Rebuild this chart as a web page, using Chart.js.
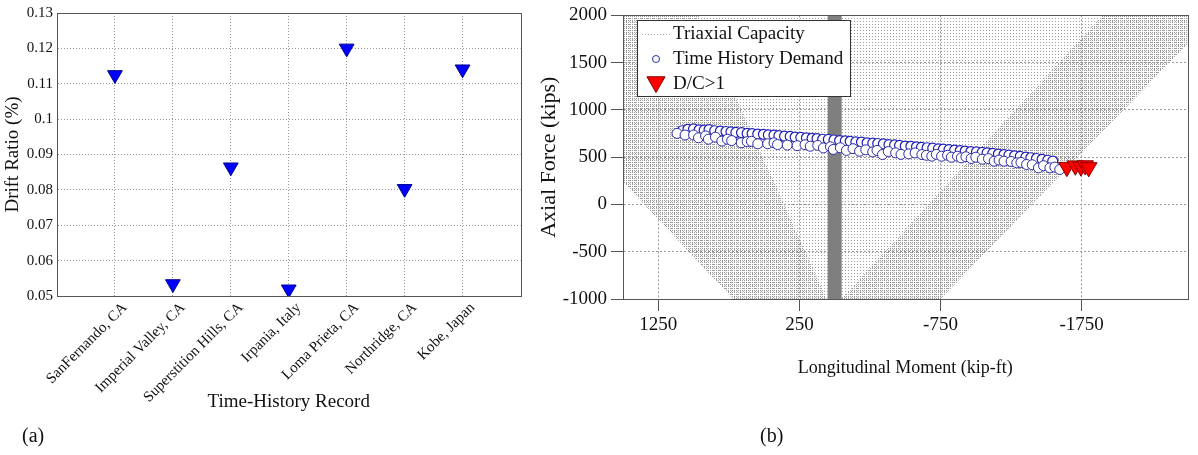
<!DOCTYPE html>
<html>
<head>
<meta charset="utf-8">
<script src="https://cdn.jsdelivr.net/npm/chart.js@4.4.0/dist/chart.umd.min.js"></script>
<style>
  body { margin: 0; background: #fff; width: 1198px; height: 455px; overflow: hidden; position: relative; font-family: 'Liberation Serif', serif; }
  .panel { position: absolute; top: 0; height: 430px; }
  #panelA { left: 0; width: 530px; }
  #panelB { left: 530px; width: 668px; }
  .tag { position: absolute; top: 424px; font-size: 20px; color: #111; }
</style>
</head>
<body>
<div id="panelA" class="panel"><canvas id="deriva"></canvas></div>
<div id="panelB" class="panel"><canvas id="interaccion"></canvas></div>
<div class="tag" style="left: 22px;">(a)</div>
<div class="tag" style="left: 760px;">(b)</div>
<script>
// (a) deriva por registro
var registros = ['SanFernando, CA', 'Imperial Valley, CA', 'Superstition Hills, CA', 'Irpania, Italy', 'Loma Prieta, CA', 'Northridge, CA', 'Kobe, Japan'];
var derivas = [0.1125, 0.0534, 0.0864, 0.0519, 0.1200, 0.0803, 0.1141];
var ticksDeriva = [0.05, 0.06, 0.07, 0.08, 0.09, 0.10, 0.11, 0.12, 0.13];

// (b) demanda vs capacidad
var ticksMomento = [1250, 250, -750, -1750];
var ticksAxial = [-1000, -500, 0, 500, 1000, 1500, 2000];

var momentoSup = [1080, 1040, 1000, 960, 925, 890, 850, 810, 770, 735, 700, 660, 620, 585, 545, 505, 470, 430, 395, 355, 315, 280, 240, 200, 160, 125, 85, 45, 5, -35, -75, -110, -150, -190, -230, -270, -305, -345, -385, -425, -460, -500, -540, -580, -615, -655, -695, -735, -770, -810, -850, -890, -925, -965, -1005, -1045, -1080, -1120, -1160, -1200, -1235, -1275, -1315, -1355, -1390, -1430, -1470, -1510, -1545];
var axialSup = [780, 795, 800, 790, 786, 792, 780, 775, 772, 768, 762, 760, 752, 750, 745, 742, 736, 733, 728, 722, 720, 713, 710, 705, 700, 697, 690, 688, 682, 676, 672, 668, 662, 660, 652, 648, 645, 640, 632, 630, 625, 618, 615, 610, 603, 600, 595, 588, 585, 580, 574, 570, 565, 560, 556, 550, 545, 540, 533, 528, 522, 515, 508, 500, 494, 486, 478, 468, 458];
var momentoInf = [1117, 1060, 1000, 965, 915, 895, 845, 800, 760, 730, 662, 620, 590, 545, 475, 430, 405, 336, 266, 210, 173, 120, 80, 30, 10, -40, -83, -130, -176, -220, -269, -300, -339, -380, -432, -470, -525, -570, -618, -650, -688, -720, -757, -800, -827, -870, -897, -930, -967, -1000, -1046, -1090, -1130, -1165, -1200, -1250, -1290, -1320, -1360, -1400, -1444, -1480, -1525, -1560, -1595];
var axialInf = [752, 735, 735, 705, 725, 690, 712, 670, 690, 676, 652, 665, 668, 642, 642, 652, 634, 628, 622, 632, 616, 625, 598, 610, 582, 600, 572, 590, 563, 578, 556, 572, 528, 560, 546, 530, 535, 545, 528, 520, 511, 530, 510, 520, 500, 510, 493, 505, 486, 500, 479, 485, 458, 470, 458, 455, 440, 445, 423, 420, 387, 410, 387, 395, 370];
var momentoDC = [-1645, -1705, -1745, -1775, -1800];
var axialDC = [395, 410, 400, 412, 392];

// contorno de la nube de capacidad triaxial
var capacidadM = [1500, 1500, 720, -750, -2500, -2500, 1500];
var capacidadP = [2000, 240, -1000, -1000, 1700, 2000, 2000];
var bandaIzqM = [1500, 720, 57, 964, 1500, 1500];
var bandaIzqP = [240, -1000, -1000, 2000, 2000, 240];
var bandaDerM = [-48, -750, -2500, -2500, -1897, -48];
var bandaDerP = [-1000, -1000, 1700, 2000, 2000, -1000];
var barraM = [0, 0];
var barraP = [-1000, 2000];

function puntos(xs, ys) {
  return xs.map(function (x, i) { return { x: x, y: ys[i] }; });
}

function trama(ctx, paso, color) {
  var c = document.createElement('canvas');
  c.width = paso; c.height = paso;
  var g = c.getContext('2d');
  g.fillStyle = color;
  g.fillRect(0, 0, 1, 1);
  return ctx.createPattern(c, 'repeat');
}

var serif = 'Liberation Serif';

var marco = {
  id: 'marco',
  afterDraw: function (chart) {
    var a = chart.chartArea, ctx = chart.ctx;
    ctx.save();
    ctx.strokeStyle = '#555';
    ctx.lineWidth = 1;
    ctx.strokeRect(Math.round(a.left) + 0.5, Math.round(a.top) + 0.5, Math.round(a.right - a.left), Math.round(a.bottom - a.top));
    ctx.restore();
  }
};

var deriva = document.getElementById('deriva').getContext('2d');

var graficaDeriva = new Chart(deriva, {
  type: 'scatter',
  data: {
    datasets: [{
      label: 'Drift Ratio',
      data: derivas.map(function (v, i) { return { x: i + 1, y: v }; }),
      pointStyle: 'triangle',
      rotation: 180,
      pointRadius: 8.5,
      backgroundColor: '#0000ff',
      borderColor: '#00008b',
      borderWidth: 1
    }]
  },
  options: {
    responsive: true,
    maintainAspectRatio: false,
    animation: false,
    layout: { padding: { top: 8, right: 5, bottom: 17, left: 0 } },
    plugins: { legend: { display: false }, tooltip: { enabled: false } },
    scales: {
      x: {
        type: 'linear', min: 0, max: 8,
        afterBuildTicks: function (s) { s.ticks = registros.map(function (r, i) { return { value: i + 1 }; }); },
        afterFit: function (s) { s.height = 117; },
        ticks: {
          autoSkip: false, minRotation: 45, maxRotation: 45, padding: 3, labelOffset: 10,
          color: '#111', font: { family: serif, size: 15 },
          callback: function (v) { return registros[v - 1]; }
        },
        grid: { color: '#999', drawTicks: false },
        border: { color: '#555', dash: [1, 2] },
        title: { display: true, text: 'Time-History Record', color: '#111', font: { family: serif, size: 19 }, padding: { top: 0, bottom: 0 } }
      },
      y: {
        min: 0.05, max: 0.13,
        afterBuildTicks: function (s) { s.ticks = ticksDeriva.map(function (v) { return { value: v }; }); },
        afterFit: function (s) { s.width = 57; },
        ticks: {
          padding: 4, color: '#111', font: { family: serif, size: 15 },
          callback: function (v) { return String(Number(v.toFixed(2))); }
        },
        grid: { color: '#999', drawTicks: false },
        border: { color: '#555', dash: [1, 2] },
        title: { display: true, text: 'Drift Ratio (%)', color: '#111', font: { family: serif, size: 19 }, padding: { top: 2, bottom: 0 } }
      }
    }
  },
  plugins: [marco]
});

var interaccion = document.getElementById('interaccion').getContext('2d');
var tramaClara = trama(interaccion, 3, '#a0a0a0');
var tramaDensa = trama(interaccion, 2, '#9a9a9a');

var leyenda = {
  id: 'leyenda',
  afterDraw: function (chart) {
    var ctx = chart.ctx, a = chart.chartArea;
    var x0 = Math.round(a.left) + 14, y0 = Math.round(a.top) + 5, w = 213, h = 76;
    ctx.save();
    ctx.fillStyle = '#fff';
    ctx.fillRect(x0, y0, w, h);
    ctx.strokeStyle = '#333';
    ctx.lineWidth = 1;
    ctx.strokeRect(x0 + 0.5, y0 + 0.5, w, h);
    var mx = x0 + 19, tx = x0 + 36;
    // Triaxial Capacity: linea punteada
    ctx.strokeStyle = '#aaa';
    ctx.setLineDash([1, 2]);
    ctx.beginPath(); ctx.moveTo(x0 + 5, y0 + 14.5); ctx.lineTo(x0 + 33, y0 + 14.5); ctx.stroke();
    ctx.setLineDash([]);
    // Time History Demand: circulo
    ctx.strokeStyle = '#2b2ba6';
    ctx.beginPath(); ctx.arc(mx, y0 + 39, 3.5, 0, Math.PI * 2); ctx.stroke();
    // D/C>1: triangulo rojo
    var r = 10.5, cy = y0 + 62;
    ctx.fillStyle = '#ff0000';
    ctx.strokeStyle = '#8b0000';
    ctx.beginPath();
    ctx.moveTo(mx, cy + r);
    ctx.lineTo(mx - r * 0.866, cy - r / 2);
    ctx.lineTo(mx + r * 0.866, cy - r / 2);
    ctx.closePath(); ctx.fill(); ctx.stroke();
    ctx.fillStyle = '#111';
    ctx.font = '19px "Liberation Serif"';
    ctx.textBaseline = 'middle';
    ctx.fillText(chart.data.datasets[6].label, tx, y0 + 14);
    ctx.fillText(chart.data.datasets[1].label, tx, y0 + 39);
    ctx.fillText(chart.data.datasets[0].label, tx, y0 + 64);
    ctx.restore();
  }
};

var graficaInteraccion = new Chart(interaccion, {
  type: 'scatter',
  data: {
    datasets: [{
      label: 'D/C>1',
      data: puntos(momentoDC, axialDC),
      pointStyle: 'triangle', rotation: 180, pointRadius: 9.5,
      backgroundColor: '#ff0000', borderColor: '#8b0000', borderWidth: 1,
      order: 0
    }, {
      label: 'Time History Demand',
      data: puntos(momentoInf, axialInf),
      pointStyle: 'circle', pointRadius: 5,
      backgroundColor: '#fff', borderColor: '#2b2ba6', borderWidth: 1,
      order: 1
    }, {
      label: 'Time History Demand (sup)',
      data: puntos(momentoSup, axialSup),
      pointStyle: 'circle', pointRadius: 5,
      backgroundColor: '#fff', borderColor: '#1c1cb8', borderWidth: 1.2,
      order: 2
    }, {
      label: 'barra',
      data: puntos(barraM, barraP),
      showLine: true, pointRadius: 0, borderColor: '#7f7f7f', borderWidth: 14,
      order: 3
    }, {
      label: 'banda izq',
      data: puntos(bandaIzqM, bandaIzqP),
      showLine: true, fill: 'shape', pointRadius: 0, borderWidth: 0,
      backgroundColor: tramaDensa, borderColor: 'rgba(0,0,0,0)',
      order: 4
    }, {
      label: 'banda der',
      data: puntos(bandaDerM, bandaDerP),
      showLine: true, fill: 'shape', pointRadius: 0, borderWidth: 0,
      backgroundColor: tramaDensa, borderColor: 'rgba(0,0,0,0)',
      order: 4
    }, {
      label: 'Triaxial Capacity',
      data: puntos(capacidadM, capacidadP),
      showLine: true, fill: 'shape', pointRadius: 0, borderWidth: 0,
      backgroundColor: tramaClara, borderColor: 'rgba(0,0,0,0)',
      order: 5
    }]
  },
  options: {
    responsive: true,
    maintainAspectRatio: false,
    animation: false,
    layout: { padding: { top: 14, right: 2, bottom: 51, left: 0 } },
    plugins: { legend: { display: false }, tooltip: { enabled: false } },
    scales: {
      x: {
        type: 'linear', min: -2500, max: 1500, reverse: true,
        afterBuildTicks: function (s) { s.ticks = ticksMomento.map(function (v) { return { value: v }; }); },
        afterFit: function (s) { s.height = 80; },
        ticks: { padding: 3, color: '#111', font: { family: serif, size: 19 }, callback: function (v) { return String(v); } },
        grid: { color: '#999', tickColor: '#555', tickLength: 12, tickBorderDash: [] },
        border: { color: '#555', dash: [2, 2] },
        title: { display: true, text: 'Longitudinal Moment (kip-ft)', color: '#111', font: { family: serif, size: 18 }, padding: { top: 0, bottom: 0 } }
      },
      y: {
        min: -1000, max: 2000,
        afterBuildTicks: function (s) { s.ticks = ticksAxial.map(function (v) { return { value: v }; }); },
        afterFit: function (s) { s.width = 93; },
        ticks: { padding: 4, color: '#111', font: { family: serif, size: 19 }, callback: function (v) { return String(v); } },
        grid: { color: '#999', tickColor: '#555', tickLength: 12, tickBorderDash: [] },
        border: { color: '#555', dash: [2, 2] },
        title: { display: true, text: 'Axial Force (kips)', color: '#111', font: { family: serif, size: 22 }, padding: { top: 6, bottom: 0 } }
      }
    }
  },
  plugins: [marco, leyenda]
});
</script>
</body>
</html>
